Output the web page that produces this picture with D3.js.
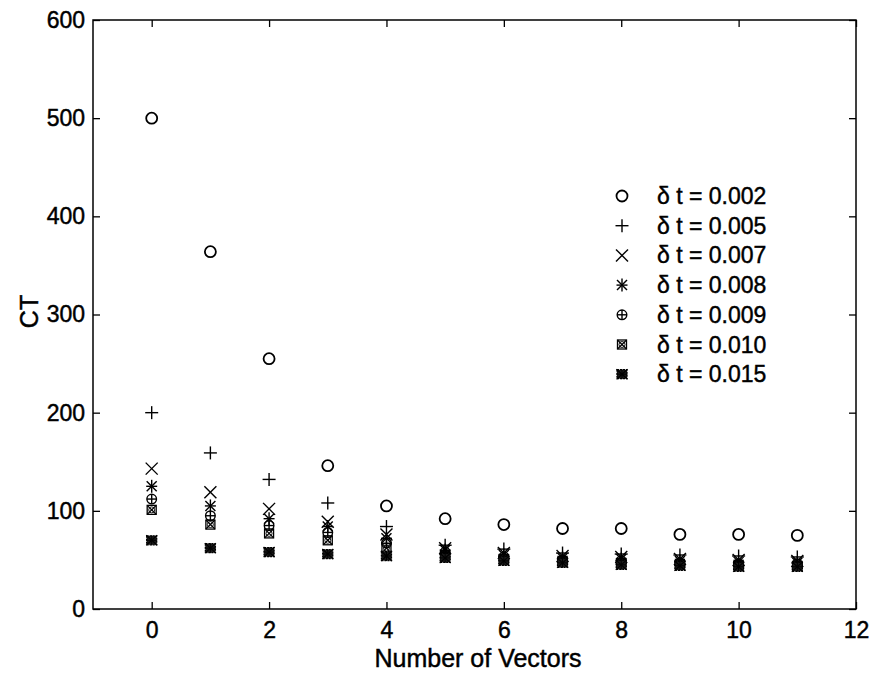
<!DOCTYPE html>
<html>
<head>
<meta charset="utf-8">
<script src="https://cdn.jsdelivr.net/npm/d3@7"></script>
<style>
  html, body { margin: 0; padding: 0; background: #fff; }
  svg text { font-family: "Liberation Sans", Arial, Helvetica, sans-serif; fill: #000; stroke: #000; stroke-width: 0.45; }
</style>
</head>
<body>
<svg id="chart" width="874" height="674"></svg>
<script>
// Number of vectors on the horizontal axis
const vectors = [0, 1, 2, 3, 4, 5, 6, 7, 8, 9, 10, 11];

// CT values for each time step
const ct002 = [500, 364, 255, 146, 105, 92, 86, 82, 82, 76, 76, 75];
const ct005 = [200, 159, 132, 108, 84, 65, 61, 57, 56, 55, 54, 53];
const ct007 = [143, 119, 102, 89, 76, 62, 57, 54, 53, 51, 50, 49];
const ct008 = [125, 105, 92, 84, 72, 60, 55, 52, 51, 49, 48, 47];
const ct009 = [112, 95, 85, 78, 67, 58, 53, 50, 49, 47, 46, 46];
const ct010 = [101, 86, 77, 70, 62, 55, 51, 49, 47, 46, 45, 44];
const ct015 = [70, 62, 58, 56, 54, 52, 49, 47, 45, 44, 43, 43];

const seriesLabels = ["δ t = 0.002", "δ t = 0.005", "δ t = 0.007", "δ t = 0.008",
                      "δ t = 0.009", "δ t = 0.010", "δ t = 0.015"];
const seriesMarkers = ["circle", "plus", "cross", "star", "oplus", "xsquare", "filled"];

const xTicks = [0, 2, 4, 6, 8, 10, 12];
const yTicks = [0, 100, 200, 300, 400, 500, 600];

const series = [ct002, ct005, ct007, ct008, ct009, ct010, ct015].map((vals, i) => ({
  label: seriesLabels[i],
  marker: seriesMarkers[i],
  points: vectors.map((v, j) => ({ x: v, y: vals[j] }))
}));

const svg = d3.select("#chart");
const plotLeft = 93, plotRight = 856, plotTop = 20, plotBottom = 609;

const x = d3.scaleLinear().domain([-1, 12]).range([plotLeft, plotRight]);
const y = d3.scaleLinear().domain([0, 600]).range([plotBottom, plotTop]);

const ink = "#000";
const tickLen = 7;
const tickFont = 23;

// Axes box with inward ticks on all four sides
const axisLayer = svg.append("g");
const fmtTicks = g => {
  g.selectAll(".domain").remove();
  g.selectAll(".tick line").attr("stroke", ink).attr("stroke-width", 1.3);
  g.selectAll(".tick text").attr("font-size", tickFont);
};

axisLayer.append("g")
  .attr("transform", `translate(0,${plotBottom})`)
  .call(d3.axisBottom(x).tickValues(xTicks).tickSize(-tickLen).tickPadding(13).tickFormat(d3.format("d")))
  .call(fmtTicks);

axisLayer.append("g")
  .attr("transform", `translate(0,${plotTop})`)
  .call(d3.axisTop(x).tickValues(xTicks).tickSize(-tickLen).tickFormat(""))
  .call(fmtTicks);

axisLayer.append("g")
  .attr("transform", `translate(${plotLeft},0)`)
  .call(d3.axisLeft(y).tickValues(yTicks).tickSize(-tickLen).tickPadding(8).tickFormat(d3.format("d")))
  .call(fmtTicks);

axisLayer.append("g")
  .attr("transform", `translate(${plotRight},0)`)
  .call(d3.axisRight(y).tickValues(yTicks).tickSize(-tickLen).tickFormat(""))
  .call(fmtTicks);

axisLayer.append("rect")
  .attr("x", plotLeft).attr("y", plotTop)
  .attr("width", plotRight - plotLeft).attr("height", plotBottom - plotTop)
  .attr("fill", "none").attr("stroke", ink).attr("stroke-width", 1.5);

// Axis titles
svg.append("text")
  .attr("x", 478).attr("y", 667)
  .attr("text-anchor", "middle").attr("font-size", 25)
  .text("Number of Vectors");

svg.append("text")
  .attr("transform", `translate(38,${(plotTop + plotBottom) / 2 - 3}) rotate(-90)`)
  .attr("text-anchor", "middle").attr("font-size", 25)
  .text("CT");

// Marker glyphs drawn around (0,0)
function drawMarker(g, type) {
  const sw0 = 1.4;
  const line = (x1, y1, x2, y2, sw) => g.append("line")
    .attr("x1", x1).attr("y1", y1).attr("x2", x2).attr("y2", y2)
    .attr("stroke", ink).attr("stroke-width", sw || sw0);
  if (type === "circle") {
    g.append("circle").attr("r", 5.5).attr("fill", "none")
      .attr("stroke", ink).attr("stroke-width", 1.8);
  } else if (type === "plus") {
    line(-6.5, 0, 6.5, 0); line(0, -6.5, 0, 6.5);
  } else if (type === "cross") {
    line(-6, -6, 6, 6); line(-6, 6, 6, -6);
  } else if (type === "star") {
    line(-5.5, 0, 5.5, 0); line(0, -6.5, 0, 6.5);
    line(-5, -5, 5, 5); line(-5, 5, 5, -5);
  } else if (type === "oplus") {
    g.append("circle").attr("r", 4.8).attr("fill", "none")
      .attr("stroke", ink).attr("stroke-width", 1.4);
    line(-4.8, 0, 4.8, 0); line(0, -4.8, 0, 4.8);
  } else if (type === "xsquare") {
    g.append("rect").attr("x", -4.5).attr("y", -4.5).attr("width", 9).attr("height", 9)
      .attr("fill", "none").attr("stroke", ink).attr("stroke-width", 1.3);
    line(-4.5, -4.5, 4.5, 4.5, 1.3); line(-4.5, 4.5, 4.5, -4.5, 1.3);
    g.append("circle").attr("r", 3).attr("fill", "none")
      .attr("stroke", ink).attr("stroke-width", 0.9);
  } else if (type === "filled") {
    g.append("rect").attr("x", -5).attr("y", -4.5).attr("width", 10).attr("height", 9)
      .attr("fill", "#1a1a1a").attr("stroke", ink).attr("stroke-width", 1.3)
      .attr("stroke-dasharray", "2,1");
    line(-5.5, -5, 5.5, 5, 1.2); line(-5.5, 5, 5.5, -5, 1.2);
    line(-5.5, 0, 5.5, 0, 1); line(0, -5, 0, 5, 1);
  }
}

// Data points
const plot = svg.append("g");
series.forEach(s => {
  plot.append("g").selectAll("g")
    .data(s.points)
    .join("g")
    .attr("transform", d => `translate(${x(d.x)},${y(d.y)})`)
    .each(function () { drawMarker(d3.select(this), s.marker); });
});

// Legend
const legend = svg.append("g").attr("transform", "translate(622,196)");
series.forEach((s, i) => {
  const row = legend.append("g").attr("transform", `translate(0,${i * 29.7})`);
  drawMarker(row, s.marker);
  row.append("text")
    .attr("x", 35).attr("y", 8)
    .attr("font-size", 23)
    .text(s.label);
});
</script>
</body>
</html>
